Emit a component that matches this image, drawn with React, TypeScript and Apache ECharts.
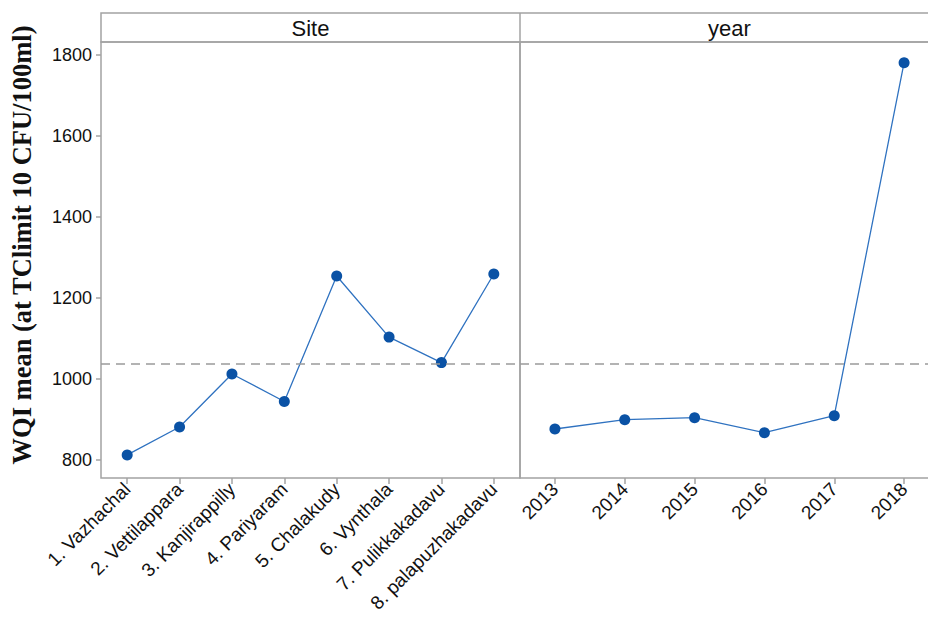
import React, { useEffect, useRef } from "react";
import * as echarts from "echarts";

// Mean WQI by site and by sampling year
const siteNames = [
  "1. Vazhachal",
  "2. Vettilappara",
  "3. Kanjirappilly",
  "4. Pariyaram",
  "5. Chalakudy",
  "6. Vynthala",
  "7. Pulikkakadavu",
  "8. palapuzhakadavu",
];
const siteMeans = [812, 881, 1012, 944, 1254, 1103, 1040, 1259];

const years = ["2013", "2014", "2015", "2016", "2017", "2018"];
const yearMeans = [876, 899, 904, 867, 909, 1781];

const grandMean = 1038;
const yTicks = [800, 1000, 1200, 1400, 1600, 1800];
const panelTitles = ["Site", "year"];
const yTitle = "WQI mean (at TClimit 10 CFU/100ml)";

const Y_MIN = 755;
const Y_MAX = 1832;

const frameColor = "#a3a3a3";
const markerColor = "#0a52a5";
const lineColor = "#2f72c0";
const labelFont = "Liberation Sans";

// the second panel runs past the right edge of the visible page
const CHART_W = 940;
const CHART_H = 619;

export default function App() {
  const ref = useRef<HTMLDivElement>(null);

  useEffect(() => {
    if (!ref.current) return;
    const chart = echarts.init(ref.current, undefined, { renderer: "svg" });

    const panelLeft = [101, 520];
    const panelWidth = 419;
    const gridTop = 42;
    const gridBottom = 141;
    const stripTop = 13;

    const xAxisCommon = {
      type: "category" as const,
      boundaryGap: true,
      axisLine: { show: false },
      axisTick: {
        show: true,
        alignWithLabel: true,
        length: 6,
        lineStyle: { color: frameColor, width: 1.5 },
      },
      axisLabel: {
        rotate: 45,
        margin: 8,
        fontSize: 19,
        fontFamily: labelFont,
        color: "#111",
      },
      splitLine: { show: false },
    };

    const refLine = {
      silent: true,
      symbol: ["none", "none"],
      label: { show: false },
      lineStyle: { color: "#9a9a9a", type: [9, 6] as any, width: 1.5 },
      data: [{ yAxis: grandMean }],
    };

    const seriesCommon = {
      type: "line" as const,
      symbol: "circle",
      symbolSize: 11,
      itemStyle: { color: markerColor },
      lineStyle: { color: lineColor, width: 1.3 },
      markLine: refLine,
    };

    chart.setOption({
      animation: false,
      backgroundColor: "#ffffff",
      grid: panelLeft.map((left) => ({
        left,
        width: panelWidth,
        top: gridTop,
        bottom: gridBottom,
        show: true,
        borderColor: frameColor,
        borderWidth: 1.5,
        backgroundColor: "transparent",
      })),
      xAxis: [
        { ...xAxisCommon, gridIndex: 0, data: siteNames },
        { ...xAxisCommon, gridIndex: 1, data: years },
      ],
      yAxis: [
        {
          type: "value",
          gridIndex: 0,
          min: Y_MIN,
          max: Y_MAX,
          axisLine: { show: false },
          axisTick: {
            show: true,
            length: 5,
            customValues: yTicks,
            lineStyle: { color: frameColor, width: 1.5 },
          },
          axisLabel: {
            customValues: yTicks,
            formatter: (v: number) => String(v),
            margin: 9,
            fontSize: 18,
            fontFamily: labelFont,
            color: "#111",
          },
          splitLine: { show: false },
        },
        {
          type: "value",
          gridIndex: 1,
          min: Y_MIN,
          max: Y_MAX,
          show: false,
          splitLine: { show: false },
        },
      ],
      series: [
        { ...seriesCommon, xAxisIndex: 0, yAxisIndex: 0, data: siteMeans },
        { ...seriesCommon, xAxisIndex: 1, yAxisIndex: 1, data: yearMeans },
      ],
      graphic: [
        {
          type: "rect",
          silent: true,
          shape: {
            x: panelLeft[0],
            y: stripTop,
            width: panelWidth * 2,
            height: gridTop - stripTop,
          },
          style: { fill: "none", stroke: frameColor, lineWidth: 1.5 },
        },
        {
          type: "line",
          silent: true,
          shape: { x1: panelLeft[1], y1: stripTop, x2: panelLeft[1], y2: gridTop },
          style: { stroke: frameColor, lineWidth: 1.5 },
        },
        ...panelTitles.map((t, i) => ({
          type: "text",
          silent: true,
          x: panelLeft[i] + panelWidth / 2,
          y: (stripTop + gridTop) / 2 + 1,
          style: {
            text: t,
            fontSize: 22,
            fontFamily: labelFont,
            fill: "#111",
            align: "center",
            verticalAlign: "middle",
          },
        })),
        {
          type: "text",
          silent: true,
          x: 22,
          y: 245,
          rotation: Math.PI / 2,
          style: {
            text: yTitle,
            fontSize: 26.5,
            fontWeight: "bold",
            fontFamily: "Liberation Serif",
            fill: "#111",
            align: "center",
            verticalAlign: "middle",
          },
        },
      ],
    });

    return () => chart.dispose();
  }, []);

  return (
    <div
      style={{
        position: "fixed",
        left: 0,
        top: 0,
        width: 928,
        height: CHART_H,
        overflow: "hidden",
        background: "#fff",
      }}
    >
      <div ref={ref} style={{ width: CHART_W, height: CHART_H }} />
    </div>
  );
}
